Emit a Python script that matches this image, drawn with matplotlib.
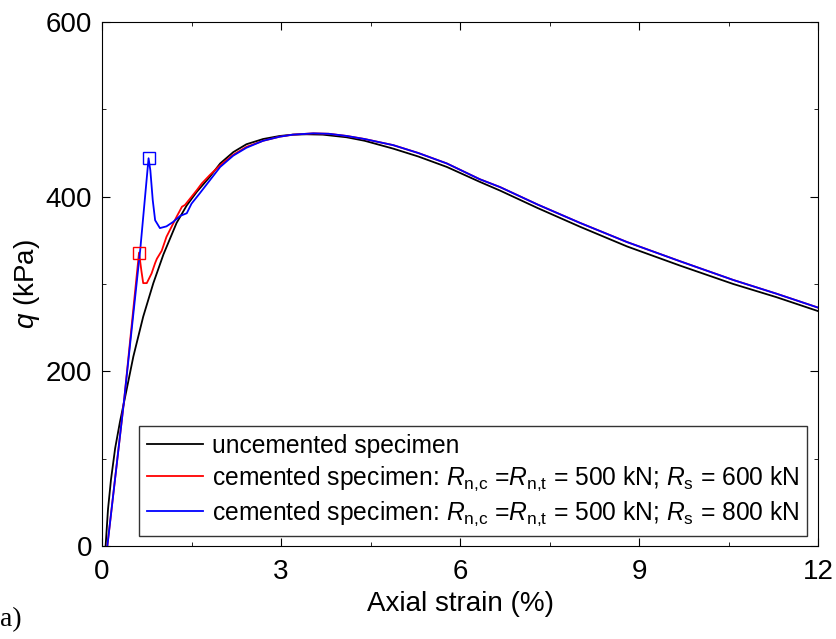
import numpy as np
import matplotlib.pyplot as plt
from matplotlib.ticker import MultipleLocator

plt.rcParams['font.family'] = ['Liberation Sans', 'DejaVu Sans']
plt.rcParams['mathtext.fontset'] = 'custom'
plt.rcParams['mathtext.rm'] = 'Liberation Sans'
plt.rcParams['mathtext.it'] = 'Liberation Sans:italic'

# uncemented specimen
strain_unc = [0.06, 0.10, 0.15, 0.22, 0.30, 0.40, 0.525, 0.69, 0.86, 1.03, 1.25, 1.42, 1.59, 1.81,
              1.98, 2.2, 2.42, 2.7, 2.98, 3.2, 3.43, 3.7, 4.10, 4.4, 4.88, 5.3, 5.78, 6.33,
              6.67, 7.3, 8.01, 8.8, 9.69, 10.58, 11.3, 12.0]
q_unc = [0, 42, 76, 112, 142, 175, 217, 262.6, 301, 334, 370, 390, 405.7, 423,
         438, 451, 460, 466, 469.5, 471, 471.4, 471, 468, 464, 455, 446, 434, 417,
         407, 387, 365.6, 343, 321, 300, 285, 269]

# cemented, Rs = 600 kN
strain_600 = [0.089, 0.37, 0.62, 0.66, 0.69, 0.75, 0.83, 0.89, 0.92, 1.0, 1.08, 1.25, 1.34,
              1.39, 1.59, 1.67, 1.81, 1.98, 2.2, 2.42, 2.7, 2.98, 3.2, 3.54, 3.8, 4.10, 4.4,
              4.88, 5.3, 5.78, 6.33, 6.67, 7.3, 8.01, 8.8, 9.69, 10.58, 11.3, 12.0]
q_600 = [0, 167, 336, 315, 301, 301, 312, 324, 329, 338, 354, 377, 388.5,
         390.5, 407.6, 415, 425, 436, 448, 457, 464, 468.7, 471, 472.5, 472, 469.5, 466,
         459, 450, 438, 420, 411, 391, 370, 348, 326, 304.6, 289, 273]

# cemented, Rs = 800 kN
strain_800 = [0.089, 0.37, 0.64, 0.78, 0.81, 0.85, 0.89, 0.97, 1.08, 1.19, 1.31, 1.42,
              1.50, 1.64, 1.81, 1.98, 2.2, 2.42, 2.7, 2.98, 3.2, 3.54, 3.8, 4.10, 4.4,
              4.88, 5.3, 5.78, 6.33, 6.67, 7.3, 8.01, 8.8, 9.69, 10.58, 11.3, 12.0]
q_800 = [0, 167, 339, 444, 430, 396, 373, 364, 366, 371, 378, 381,
         392, 404, 419, 434, 447, 456, 464, 468.7, 471, 472.5, 472, 469.5, 466,
         459, 450, 438, 420, 411, 391, 370, 348, 326, 304.6, 289, 273]

# peak (yield) markers
peak_600 = (0.62, 336)
peak_800 = (0.78, 444)

fig = plt.figure(figsize=(8.37, 6.39), dpi=100)
ax = fig.add_axes([0.1219, 0.1455, 0.8554, 0.8201])

ax.plot(strain_unc, q_unc, color='black', lw=1.3, label='uncemented specimen')
ax.plot(strain_600, q_600, color='#ff0000', lw=1.3,
        label=r'cemented specimen: $R_{\rm n{,}c}$ =$R_{\rm n{,}t}$ = 500 kN; $R_{\rm s}$ = 600 kN')
ax.plot(strain_800, q_800, color='#0000ff', lw=1.3,
        label=r'cemented specimen: $R_{\rm n{,}c}$ =$R_{\rm n{,}t}$ = 500 kN; $R_{\rm s}$ = 800 kN')
ax.plot(*peak_600, marker='s', ms=8, mfc='none', mec='#ff0000', mew=1.0)
ax.plot(*peak_800, marker='s', ms=8, mfc='none', mec='#0000ff', mew=1.0)

ax.set_xlim(0, 12)
ax.set_ylim(0, 600)
ax.xaxis.set_major_locator(MultipleLocator(3))
ax.xaxis.set_minor_locator(MultipleLocator(1.5))
ax.yaxis.set_major_locator(MultipleLocator(200))
ax.yaxis.set_minor_locator(MultipleLocator(100))
ax.tick_params(which='both', direction='in', top=True, right=True, labelsize=20)
ax.tick_params(axis='x', pad=9)
ax.tick_params(axis='y', pad=7)
ax.tick_params(which='major', length=5.5)
ax.tick_params(which='minor', length=3)

ax.set_xlabel('Axial strain (%)', fontsize=20, labelpad=5)
ax.set_ylabel(r'$q$ (kPa)', fontsize=20, labelpad=3)

leg = ax.legend(loc='lower right', bbox_to_anchor=(0.984, 0.02), fontsize=17.7,
                frameon=True, fancybox=False, edgecolor='black', handlelength=2.3,
                handletextpad=0.35, borderpad=0.3, labelspacing=0.28, borderaxespad=0)
leg.get_frame().set_linewidth(1.0)

fig.text(0.0, 0.03, 'a)', fontsize=20, family='Liberation Serif', va='center', ha='left')

fig.savefig('out.png', dpi=100)
